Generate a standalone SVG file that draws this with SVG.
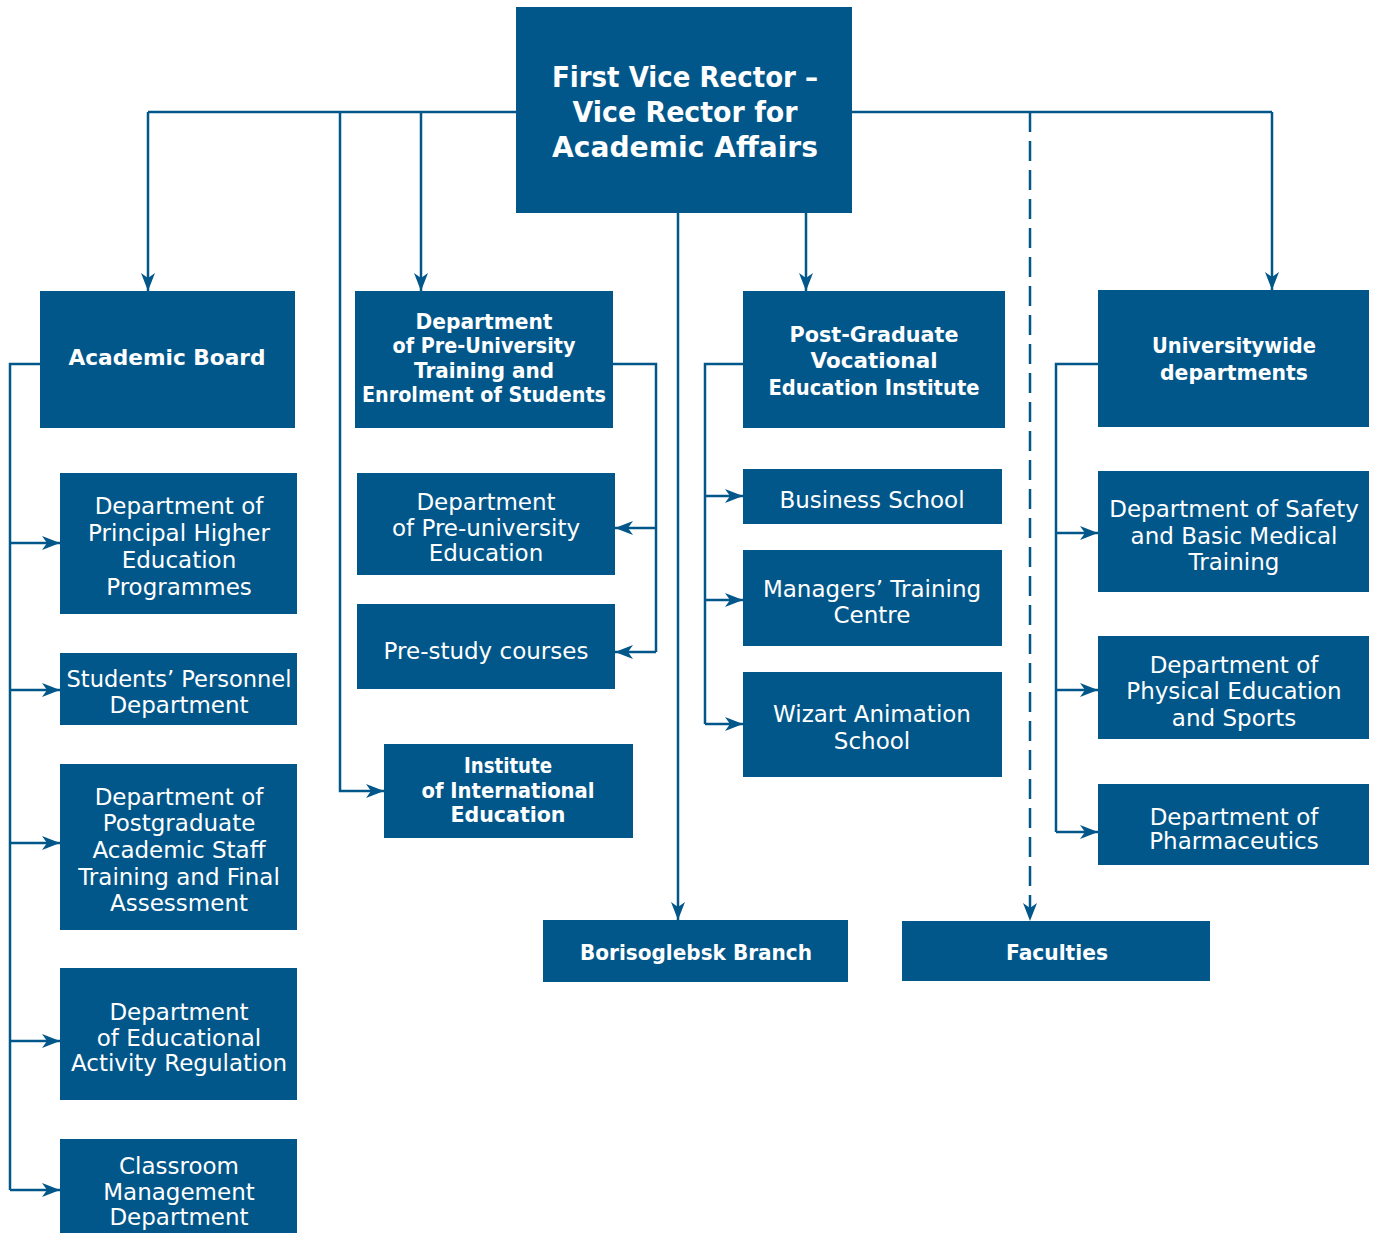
<svg xmlns="http://www.w3.org/2000/svg" width="1373" height="1233" viewBox="0 0 1373 1233">
  <style>
    .box { fill: #02578A; }
    .t { fill: #ffffff; font-family: "DejaVu Sans", "Liberation Sans", sans-serif; font-size: 23px; text-anchor: middle; }
    .b { font-weight: bold; font-size: 21px; }
    .big { font-weight: bold; font-size: 28px; }
    .ln { fill: none; stroke: #02578A; stroke-width: 2.5; }
    .arr { marker-end: url(#head); }
    .dash { stroke-dasharray: 20 9; }
  </style>
  <defs>
    <marker id="head" viewBox="0 0 18 14" refX="18" refY="7" markerWidth="18" markerHeight="14" markerUnits="userSpaceOnUse" orient="auto">
      <path d="M0,0 L18,7 L0,14 L5,7 Z" fill="#02578A"/>
    </marker>
  </defs>

  <rect width="1373" height="1233" fill="#ffffff"/>

  <g id="connectors">
    <!-- top distribution bar -->
    <path class="ln" d="M148,112 H516 M852,112 H1272"/>
    <path class="ln arr" d="M148,112 V291"/>
    <path class="ln arr" d="M340,112 V791 H384"/>
    <path class="ln arr" d="M421,112 V291"/>
    <path class="ln arr" d="M678,213 V920"/>
    <path class="ln arr" d="M806,213 V291"/>
    <path class="ln arr dash" d="M1030,112 V921"/>
    <path class="ln arr" d="M1272,112 V290"/>
    <!-- Academic Board branch -->
    <path class="ln" d="M40,364 H10 V1190"/>
    <path class="ln arr" d="M10,543 H60"/>
    <path class="ln arr" d="M10,690 H60"/>
    <path class="ln arr" d="M10,843 H60"/>
    <path class="ln arr" d="M10,1041 H60"/>
    <path class="ln arr" d="M10,1190 H60"/>
    <!-- Pre-University branch -->
    <path class="ln" d="M613,364 H656 V652"/>
    <path class="ln arr" d="M656,528 H615"/>
    <path class="ln arr" d="M656,652 H615"/>
    <!-- Post-Graduate branch -->
    <path class="ln" d="M743,364 H705 V724"/>
    <path class="ln arr" d="M705,496 H743"/>
    <path class="ln arr" d="M705,600 H743"/>
    <path class="ln arr" d="M705,724 H743"/>
    <!-- Universitywide branch -->
    <path class="ln" d="M1098,364 H1056 V832"/>
    <path class="ln arr" d="M1056,533 H1098"/>
    <path class="ln arr" d="M1056,690 H1098"/>
    <path class="ln arr" d="M1056,832 H1098"/>
  </g>

  <g id="rector">
    <rect class="box" x="516" y="7" width="336" height="206"/>
    <text class="t big" x="685" y="87" textLength="266" lengthAdjust="spacingAndGlyphs">First Vice Rector –</text>
    <text class="t big" x="685" y="122" textLength="225" lengthAdjust="spacingAndGlyphs">Vice Rector for</text>
    <text class="t big" x="685" y="157" textLength="266" lengthAdjust="spacingAndGlyphs">Academic Affairs</text>
  </g>

  <g id="academic-board">
    <rect class="box" x="40" y="291" width="255" height="137"/>
    <text class="t b" x="167" y="365" textLength="197" lengthAdjust="spacingAndGlyphs">Academic Board</text>
  </g>
  <g id="pre-university">
    <rect class="box" x="355" y="291" width="258" height="137"/>
    <text class="t b" x="484" y="329" textLength="137" lengthAdjust="spacingAndGlyphs">Department</text>
    <text class="t b" x="484" y="353" textLength="183" lengthAdjust="spacingAndGlyphs">of Pre-University</text>
    <text class="t b" x="484" y="378" textLength="140" lengthAdjust="spacingAndGlyphs">Training and</text>
    <text class="t b" x="484" y="402" textLength="244" lengthAdjust="spacingAndGlyphs">Enrolment of Students</text>
  </g>
  <g id="post-graduate">
    <rect class="box" x="743" y="291" width="262" height="137"/>
    <text class="t b" x="874" y="342" textLength="169" lengthAdjust="spacingAndGlyphs">Post-Graduate</text>
    <text class="t b" x="874" y="368" textLength="127" lengthAdjust="spacingAndGlyphs">Vocational</text>
    <text class="t b" x="874" y="395" textLength="211" lengthAdjust="spacingAndGlyphs">Education Institute</text>
  </g>
  <g id="universitywide">
    <rect class="box" x="1098" y="290" width="271" height="137"/>
    <text class="t b" x="1234" y="353" textLength="164" lengthAdjust="spacingAndGlyphs">Universitywide</text>
    <text class="t b" x="1234" y="380" textLength="148" lengthAdjust="spacingAndGlyphs">departments</text>
  </g>

  <g id="principal-programmes">
    <rect class="box" x="60" y="473" width="237" height="141"/>
    <text class="t" x="179" y="514">Department of</text>
    <text class="t" x="179" y="541">Principal Higher</text>
    <text class="t" x="179" y="568">Education</text>
    <text class="t" x="179" y="595">Programmes</text>
  </g>
  <g id="students-personnel">
    <rect class="box" x="60" y="653" width="237" height="72"/>
    <text class="t" x="179" y="687" textLength="225" lengthAdjust="spacingAndGlyphs">Students’ Personnel</text>
    <text class="t" x="179" y="713">Department</text>
  </g>
  <g id="postgraduate-staff">
    <rect class="box" x="60" y="764" width="237" height="166"/>
    <text class="t" x="179" y="805">Department of</text>
    <text class="t" x="179" y="831">Postgraduate</text>
    <text class="t" x="179" y="858">Academic Staff</text>
    <text class="t" x="179" y="885">Training and Final</text>
    <text class="t" x="179" y="911">Assessment</text>
  </g>
  <g id="activity-regulation">
    <rect class="box" x="60" y="968" width="237" height="132"/>
    <text class="t" x="179" y="1020">Department</text>
    <text class="t" x="179" y="1046">of Educational</text>
    <text class="t" x="179" y="1071">Activity Regulation</text>
  </g>
  <g id="classroom-management">
    <rect class="box" x="60" y="1139" width="237" height="100"/>
    <text class="t" x="179" y="1174">Classroom</text>
    <text class="t" x="179" y="1200">Management</text>
    <text class="t" x="179" y="1225">Department</text>
  </g>

  <g id="pre-university-education">
    <rect class="box" x="357" y="473" width="258" height="102"/>
    <text class="t" x="486" y="510">Department</text>
    <text class="t" x="486" y="536">of Pre-university</text>
    <text class="t" x="486" y="561">Education</text>
  </g>
  <g id="pre-study">
    <rect class="box" x="357" y="604" width="258" height="85"/>
    <text class="t" x="486" y="659">Pre-study courses</text>
  </g>
  <g id="international-education">
    <rect class="box" x="384" y="744" width="249" height="94"/>
    <text class="t b" x="508" y="773" textLength="88" lengthAdjust="spacingAndGlyphs">Institute</text>
    <text class="t b" x="508" y="798" textLength="173" lengthAdjust="spacingAndGlyphs">of International</text>
    <text class="t b" x="508" y="822" textLength="115" lengthAdjust="spacingAndGlyphs">Education</text>
  </g>

  <g id="business-school">
    <rect class="box" x="743" y="469" width="259" height="55"/>
    <text class="t" x="872" y="508">Business School</text>
  </g>
  <g id="managers-training">
    <rect class="box" x="743" y="550" width="259" height="96"/>
    <text class="t" x="872" y="597">Managers’ Training</text>
    <text class="t" x="872" y="623">Centre</text>
  </g>
  <g id="wizart">
    <rect class="box" x="743" y="672" width="259" height="105"/>
    <text class="t" x="872" y="722">Wizart Animation</text>
    <text class="t" x="872" y="749">School</text>
  </g>

  <g id="safety-medical">
    <rect class="box" x="1098" y="471" width="271" height="121"/>
    <text class="t" x="1234" y="517">Department of Safety</text>
    <text class="t" x="1234" y="544">and Basic Medical</text>
    <text class="t" x="1234" y="570">Training</text>
  </g>
  <g id="physical-education">
    <rect class="box" x="1098" y="636" width="271" height="103"/>
    <text class="t" x="1234" y="673">Department of</text>
    <text class="t" x="1234" y="699">Physical Education</text>
    <text class="t" x="1234" y="726">and Sports</text>
  </g>
  <g id="pharmaceutics">
    <rect class="box" x="1098" y="784" width="271" height="81"/>
    <text class="t" x="1234" y="825">Department of</text>
    <text class="t" x="1234" y="849">Pharmaceutics</text>
  </g>

  <g id="borisoglebsk">
    <rect class="box" x="543" y="920" width="305" height="62"/>
    <text class="t b" x="696" y="960" textLength="232" lengthAdjust="spacingAndGlyphs">Borisoglebsk Branch</text>
  </g>
  <g id="faculties">
    <rect class="box" x="902" y="921" width="308" height="60"/>
    <text class="t b" x="1057" y="960" textLength="102" lengthAdjust="spacingAndGlyphs">Faculties</text>
  </g>
</svg>
